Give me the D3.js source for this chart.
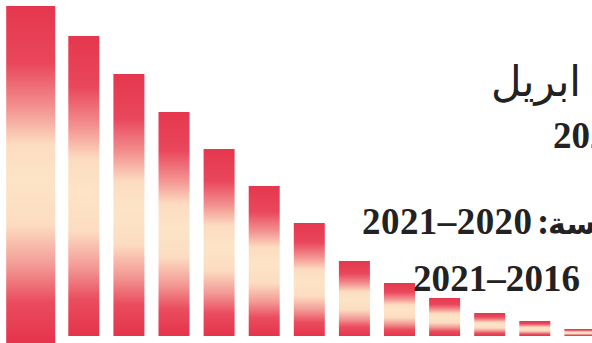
<!DOCTYPE html>
<html><head><meta charset="utf-8">
<script src="https://cdn.jsdelivr.net/npm/d3@7/dist/d3.min.js"></script>
<style>html,body{margin:0;padding:0;background:#fff;overflow:hidden}</style>
</head><body>
<script>
const categories = ["1","2","3","4","5","6","7","8","9","10","11","12","13"];
const values = [330, 300, 262, 224, 187, 150, 113, 75, 53, 38, 23, 15, 7];
const titleWord = "ابريل";
const yearLabel = "2021";
const seasonLabel = "الدراسة";
const periodLabel1 = "2021–2020";
const periodLabel2 = "2021–2016";

const W = 592, H = 343;
const svg = d3.select("body").append("svg").attr("width", W).attr("height", H);

const defs = svg.append("defs");
const grad = defs.append("linearGradient").attr("id","barGrad")
  .attr("x1",0).attr("y1",0).attr("x2",0).attr("y2",1);
[[0,"#e5374e"],[0.17,"#e9475b"],[0.3,"#f3918f"],[0.41,"#fcdcc0"],[0.52,"#fde4c6"],
 [0.65,"#fcdcc0"],[0.77,"#f39a95"],[0.88,"#ea4c5e"],[1,"#e5334b"]]
 .forEach(([o,c]) => grad.append("stop").attr("offset",o).attr("stop-color",c));

const x = d3.scaleBand().domain(categories).range([23.2, 595.4]).paddingInner(0.3126).paddingOuter(0);
const y = d3.scaleLinear().domain([0, 330]).range([336, 6]);

const data = categories.map((c,i) => ({c, v: values[i], i}));
svg.append("g").selectAll("rect").data(data).join("rect")
  .attr("x", d => d.i === 0 ? x(d.c) - 17 : x(d.c))
  .attr("width", d => d.i === 0 ? x.bandwidth() + 18 : x.bandwidth())
  .attr("y", d => y(d.v))
  .attr("height", d => y(0) - y(d.v) + (d.i === 0 ? 7 : 0))
  .attr("fill", "url(#barGrad)");

const serif = "'Liberation Serif','Times New Roman',serif";
const txt = svg.append("g").attr("fill", "#222");
txt.append("text").attr("x", 581).attr("y", 96).attr("text-anchor","end")
  .attr("font-family","'DejaVu Sans',sans-serif").attr("font-size", 42).text(titleWord);
txt.append("text").attr("x", 553).attr("y", 148)
  .attr("font-family", serif).attr("font-weight","bold").attr("font-size", 37).text(yearLabel);
txt.append("text").attr("x", 362).attr("y", 234)
  .attr("font-family", serif).attr("font-weight","bold").attr("font-size", 37).attr("textLength",170).text(periodLabel1);
txt.append("text").attr("x", 537).attr("y", 234)
  .attr("font-family", serif).attr("font-weight","bold").attr("font-size", 37).text(":");
txt.append("text").attr("x", 548).attr("y", 234).attr("direction","ltr")
  .attr("font-family","'DejaVu Sans',sans-serif").attr("font-size", 30).attr("font-weight","bold")
  .text(seasonLabel.slice(-3));
txt.append("text").attr("x", 413).attr("y", 291)
  .attr("font-family", serif).attr("font-weight","bold").attr("font-size", 37).attr("textLength",167).text(periodLabel2);
</script>
</body></html>
